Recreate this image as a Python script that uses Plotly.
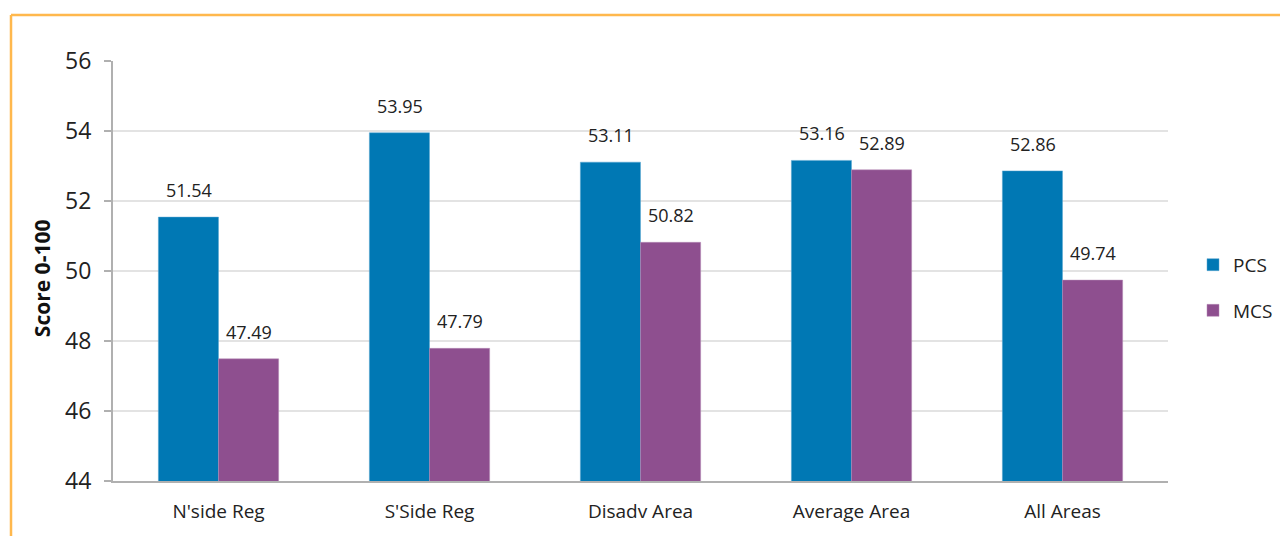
import plotly.graph_objects as go

categories = ["N'side Reg", "S'Side Reg", "Disadv Area", "Average Area", "All Areas"]
pcs = [51.54, 53.95, 53.11, 53.16, 52.86]
mcs = [47.49, 47.79, 50.82, 52.89, 49.74]
y_ticks = [44, 46, 48, 50, 52, 54, 56]

FONT = "Open Sans, Noto Sans, sans-serif"
fig = go.Figure()
fig.add_trace(go.Bar(name="PCS", x=categories, y=pcs, legendgroup="a",
                     marker=dict(color="#0078b4", line=dict(color="#5aa6d0", width=0.5))))
fig.add_trace(go.Bar(name="MCS", x=categories, y=mcs, legendgroup="b",
                     marker=dict(color="#8e4f8f", line=dict(color="#b58ab5", width=0.5))))

W, H = 1280, 536
L, R, T, B = 113, 112, 61, 55
pw = W - L - R
ph = H - T - B

for vals, xs in ((pcs, -30), (mcs, 30)):
    for c, v in zip(categories, vals):
        fig.add_annotation(x=c, y=v, text=f"{v:.2f}", showarrow=False, xshift=xs, yshift=27,
                           yanchor="middle", font=dict(size=18, family=FONT, color="#222222"))

fig.update_layout(
    width=W, height=H, barmode="group", bargap=0.43, bargroupgap=0,
    margin=dict(l=L, r=R, t=T, b=B, autoexpand=False),
    plot_bgcolor="white", paper_bgcolor="white",
    font=dict(family=FONT, color="#222222"),
    showlegend=True,
    legend=dict(x=(1193 - L) / pw, y=0.46, xanchor="left", yanchor="middle",
                font=dict(size=19, family=FONT, color="#222222"), tracegroupgap=18,
                traceorder="grouped", itemwidth=30, bgcolor="rgba(0,0,0,0)"),
    xaxis=dict(showline=True, linecolor="#b0b0b0", linewidth=2, ticks="", ticklabelstandoff=12,
               tickfont=dict(size=19, family=FONT, color="#222222")),
    yaxis=dict(range=[44, 56], tickvals=y_ticks, showline=True, linecolor="#b0b0b0", linewidth=2,
               ticks="outside", ticklen=7, tickcolor="#b0b0b0", tickwidth=2, ticklabelstandoff=8,
               gridcolor="#e3e3e3", gridwidth=2, zeroline=False,
               tickfont=dict(size=23, family=FONT, color="#222222")),
)

# y-axis title
fig.add_annotation(xref="paper", yref="paper", x=(42 - L) / pw, y=0.483, text="<b>Score 0-100</b>",
                   xanchor="center", yanchor="middle",
                   textangle=-90, showarrow=False, font=dict(size=21, family=FONT, color="#111111"))

# orange frame (top and left edges)
fig.add_shape(type="line", xref="paper", yref="paper",
              x0=(11 - L) / pw, x1=(1290 - L) / pw, y0=(H - B - 15) / ph, y1=(H - B - 15) / ph,
              line=dict(color="#ffb84d", width=2.5))
fig.add_shape(type="line", xref="paper", yref="paper",
              x0=(11 - L) / pw, x1=(11 - L) / pw, y0=(H - B - 15) / ph, y1=-(B + 10) / ph,
              line=dict(color="#ffb84d", width=2.5))

fig.write_html("out.html")
